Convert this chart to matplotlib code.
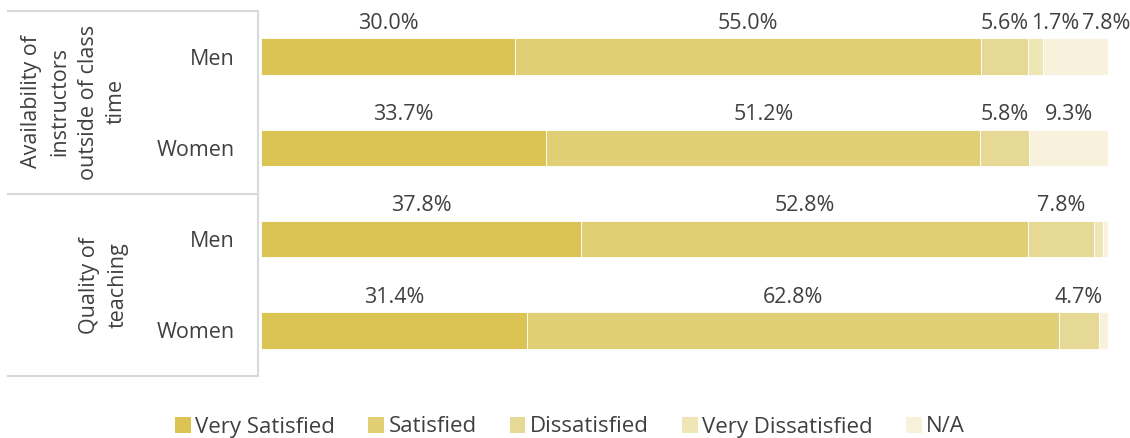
import matplotlib.pyplot as plt
from matplotlib.lines import Line2D
from matplotlib.patches import Patch

plt.rcParams['font.family'] = ['Open Sans', 'DejaVu Sans']

# data
rows = ['Men', 'Women', 'Men', 'Women']
groups = ['Availability of\ninstructors\noutside of class\ntime', 'Quality of\nteaching']
categories = ['Very Satisfied', 'Satisfied', 'Dissatisfied', 'Very Dissatisfied', 'N/A']
very_satisfied = [30.0, 33.7, 37.8, 31.4]
satisfied = [55.0, 51.2, 52.8, 62.8]
dissatisfied = [5.6, 5.8, 7.8, 4.7]
very_dissatisfied = [1.7, 0.0, 1.0, 0.0]
not_applicable = [7.8, 9.3, 0.6, 1.1]

colors = ['#dcc454', '#e0cf75', '#e6d996', '#efe6b6', '#f8f2dc']
series = [very_satisfied, satisfied, dissatisfied, very_dissatisfied, not_applicable]
txt = '#404040'
fs = 15.5

W, H = 1130, 438
fig = plt.figure(figsize=(W / 100, H / 100), dpi=100)
ax = fig.add_axes([261 / W, 1 - 376 / H, 847 / W, 365 / H])

y = list(range(len(rows)))
left = [0.0] * len(rows)
for vals, col, name in zip(series, colors, categories):
    ax.barh(y, vals, left=left, height=0.4, color=col, edgecolor='white',
            linewidth=0.6, label=name)
    left = [l + v for l, v in zip(left, vals)]

# value labels above each segment, pushed right if too close to the previous one
min_sep = 6.0
for i in y:
    start = 0.0
    prev_cx = -100
    for vals in series:
        v = vals[i]
        cx = start + v / 2
        if v >= 1.5:
            if cx - prev_cx < min_sep:
                cx = prev_cx + min_sep
            ax.text(cx, i - 0.25, f'{v:.1f}%', ha='center', va='bottom',
                    fontsize=fs, color=txt)
            prev_cx = cx
        start += v

ax.set_xlim(0, 100)
ax.set_ylim(3.5, -0.5)
ax.set_yticks(y)
ax.set_yticklabels(rows, fontsize=fs, color=txt)
ax.tick_params(axis='y', length=0, pad=19)
ax.set_xticks([])
for s in ax.spines.values():
    s.set_visible(False)

# left header cells
lc = '#d9d9d9'
def fx(px):
    return px / W
def fy(px):
    return 1 - px / H
for yy in [11, 194, 376]:
    fig.add_artist(Line2D([fx(8), fx(258)], [fy(yy), fy(yy)], color=lc, lw=1.5))
fig.add_artist(Line2D([fx(258), fx(258)], [fy(11), fy(376)], color=lc, lw=1.5))

fig.text(fx(74), fy(102), groups[0], rotation=90, ha='center', va='center',
         multialignment='center', fontsize=15.5, color=txt, linespacing=1.45)
fig.text(fx(104), fy(285), groups[1], rotation=90, ha='center', va='center',
         multialignment='center', fontsize=15.5, color=txt, linespacing=1.45)

handles = [Patch(facecolor=c, edgecolor='none') for c in colors]
fig.legend(handles, categories, loc='center', bbox_to_anchor=(570 / W, fy(427)),
           ncol=5, frameon=False, fontsize=16, handlelength=0.7, handleheight=0.7,
           handletextpad=0.2, columnspacing=1.5, labelcolor=txt, borderpad=0)

fig.savefig('out.png', dpi=100)
